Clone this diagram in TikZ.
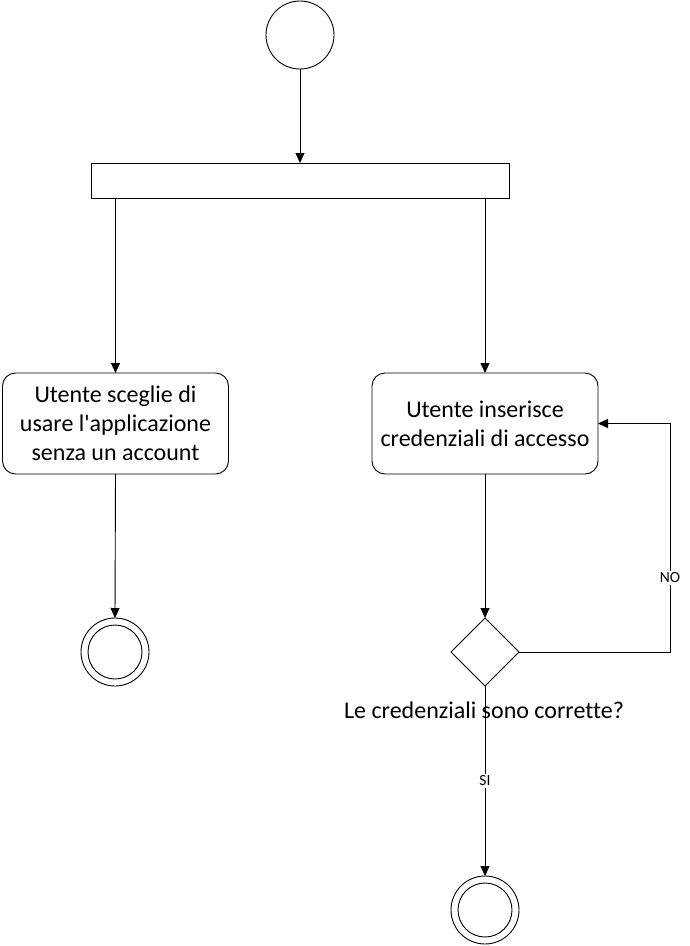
\documentclass[tikz,border=0pt]{standalone}
\usepackage{fontspec}
\setmainfont{Carlito}[Ligatures={TeXOff,NoCommon}]
\usetikzlibrary{arrows.meta,shapes.geometric}
\begin{document}
\begin{tikzpicture}[x=1pt,y=-1pt,
  every node/.style={inner sep=0pt,outer sep=0pt},
  flow/.style={draw=black,line width=0.9pt,-{Triangle[length=10pt,width=9pt]}},
  action/.style={draw,line width=0.9pt,rounded corners=13pt,minimum width=226pt,minimum height=101pt,align=center,font=\fontsize{24}{29}\selectfont},
  startst/.style={circle,draw,line width=0.9pt,minimum size=68pt},
  endst/.style={circle,draw,line width=0.9pt,minimum size=68pt},
  forkbar/.style={draw,line width=0.9pt,minimum width=418pt,minimum height=35pt},
  decision/.style={diamond,draw,line width=0.9pt,minimum width=68pt,minimum height=68pt},
  lbl/.style={fill=white,inner sep=1.5pt,font=\fontsize{15.5}{17}\selectfont},
  question/.style={font=\fontsize{24}{28}\selectfont}]
\useasboundingbox (0,0) rectangle (689,946);
\node[startst] (start) at (300,35) {};
\node[forkbar] (bar) at (300,180.5) {};
\node[action] (act1) at (115.5,423.5) {Utente sceglie di\\usare l'applicazione\\senza un account};
\node[action] (act2) at (485,423.5) {Utente inserisce\\credenziali di accesso};
\node[endst] (end1) at (115,652) {};
\draw[line width=0.9pt] (end1.center) circle (27pt);
\node[decision] (dec) at (485,652) {};
\node[endst] (end2) at (485,910) {};
\draw[line width=0.9pt] (end2.center) circle (27pt);
\coordinate (loopc) at (670,652);
% connectors
\draw[flow] (start.south) -- (bar.north);
\draw[flow] (bar.south -| act1.north) -- (act1.north);
\draw[flow] (bar.south -| act2.north) -- (act2.north);
\draw[flow] (act1.south) -- (end1.north);
\draw[flow] (act2.south) -- (dec.north);
\draw[flow] (dec.east) -- (loopc) |- (act2.east);
\draw[flow] (dec.south) -- (end2.north);
\node[question] (q) at (484,710) {Le credenziali sono corrette?};
\node[lbl] (no) at (670,578) {NO};
\node[lbl] (si) at (485,781) {SI};
\end{tikzpicture}
\end{document}
